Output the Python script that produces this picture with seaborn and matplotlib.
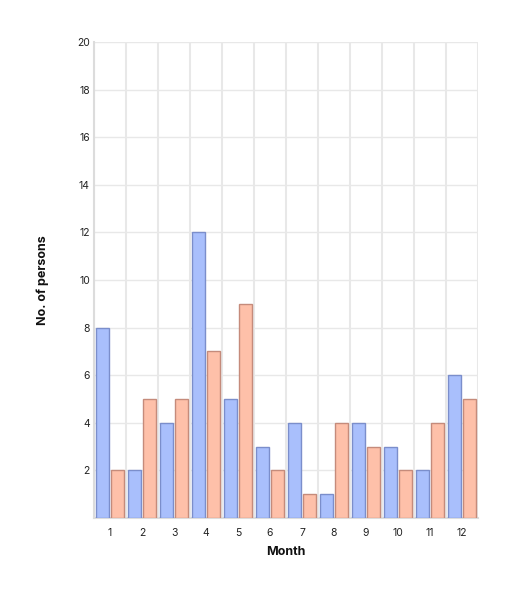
import matplotlib
matplotlib.use("Agg")
import matplotlib.pyplot as plt
from matplotlib.ticker import FixedLocator
import seaborn as sns
import pandas as pd

months = [str(m) for m in range(1, 13)]
series_a = [8, 2, 4, 12, 5, 3, 4, 1, 4, 3, 2, 6]
series_b = [2, 5, 5, 7, 9, 2, 1, 4, 3, 2, 4, 5]
y_ticks = [2, 4, 6, 8, 10, 12, 14, 16, 18, 20]

df = pd.DataFrame({
    "Month": months * 2,
    "value": series_a + series_b,
    "series": ["A"] * 12 + ["B"] * 12,
})

sns.set_theme(style="white")
plt.rcParams["font.family"] = ["Inter", "DejaVu Sans"]

fig = plt.figure(figsize=(5.18, 5.94), dpi=100)
ax = fig.add_axes([94 / 518, 1 - 518 / 594, 384 / 518, 476 / 594])

sns.barplot(data=df, x="Month", y="value", hue="series", order=months,
            palette={"A": "#a9bffc", "B": "#fec0a9"}, saturation=1,
            width=0.88, gap=0.08, linewidth=1, legend=False, ax=ax, zorder=3)
for patch, ec in zip(ax.patches, ["#7b8ecb"] * 12 + ["#c58b7b"] * 12):
    patch.set_edgecolor(ec)

ax.set_xlim(-0.5, 11.5)
ax.set_ylim(0, 20)
ax.set_yticks(y_ticks)
ax.set_yticklabels([str(t) for t in y_ticks])
ax.xaxis.set_minor_locator(FixedLocator([i - 0.5 for i in range(13)]))
ax.grid(axis="y", which="major", color="#e8e8e8", linewidth=1, zorder=0)
ax.grid(axis="x", which="minor", color="#e8e8e8", linewidth=1.5, zorder=0)
ax.set_axisbelow(True)

for s in ["top", "right"]:
    ax.spines[s].set_visible(False)
for s in ["left", "bottom"]:
    ax.spines[s].set_color("#dcdcdc")
    ax.spines[s].set_linewidth(1.5)

ax.tick_params(axis="both", which="both", length=0, labelsize=7.5, colors="#222222")
ax.tick_params(axis="x", pad=7)
ax.tick_params(axis="y", pad=3)

ax.set_xlabel("Month", fontsize=9, fontweight="bold", color="#111111")
ax.set_ylabel("No. of persons", fontsize=9, fontweight="bold", color="#111111")
ax.xaxis.set_label_coords(0.5, (518 - 546) / 476)
ax.yaxis.set_label_coords((49 - 94) / 384, 0.5)

fig.savefig("out.png", dpi=100)
